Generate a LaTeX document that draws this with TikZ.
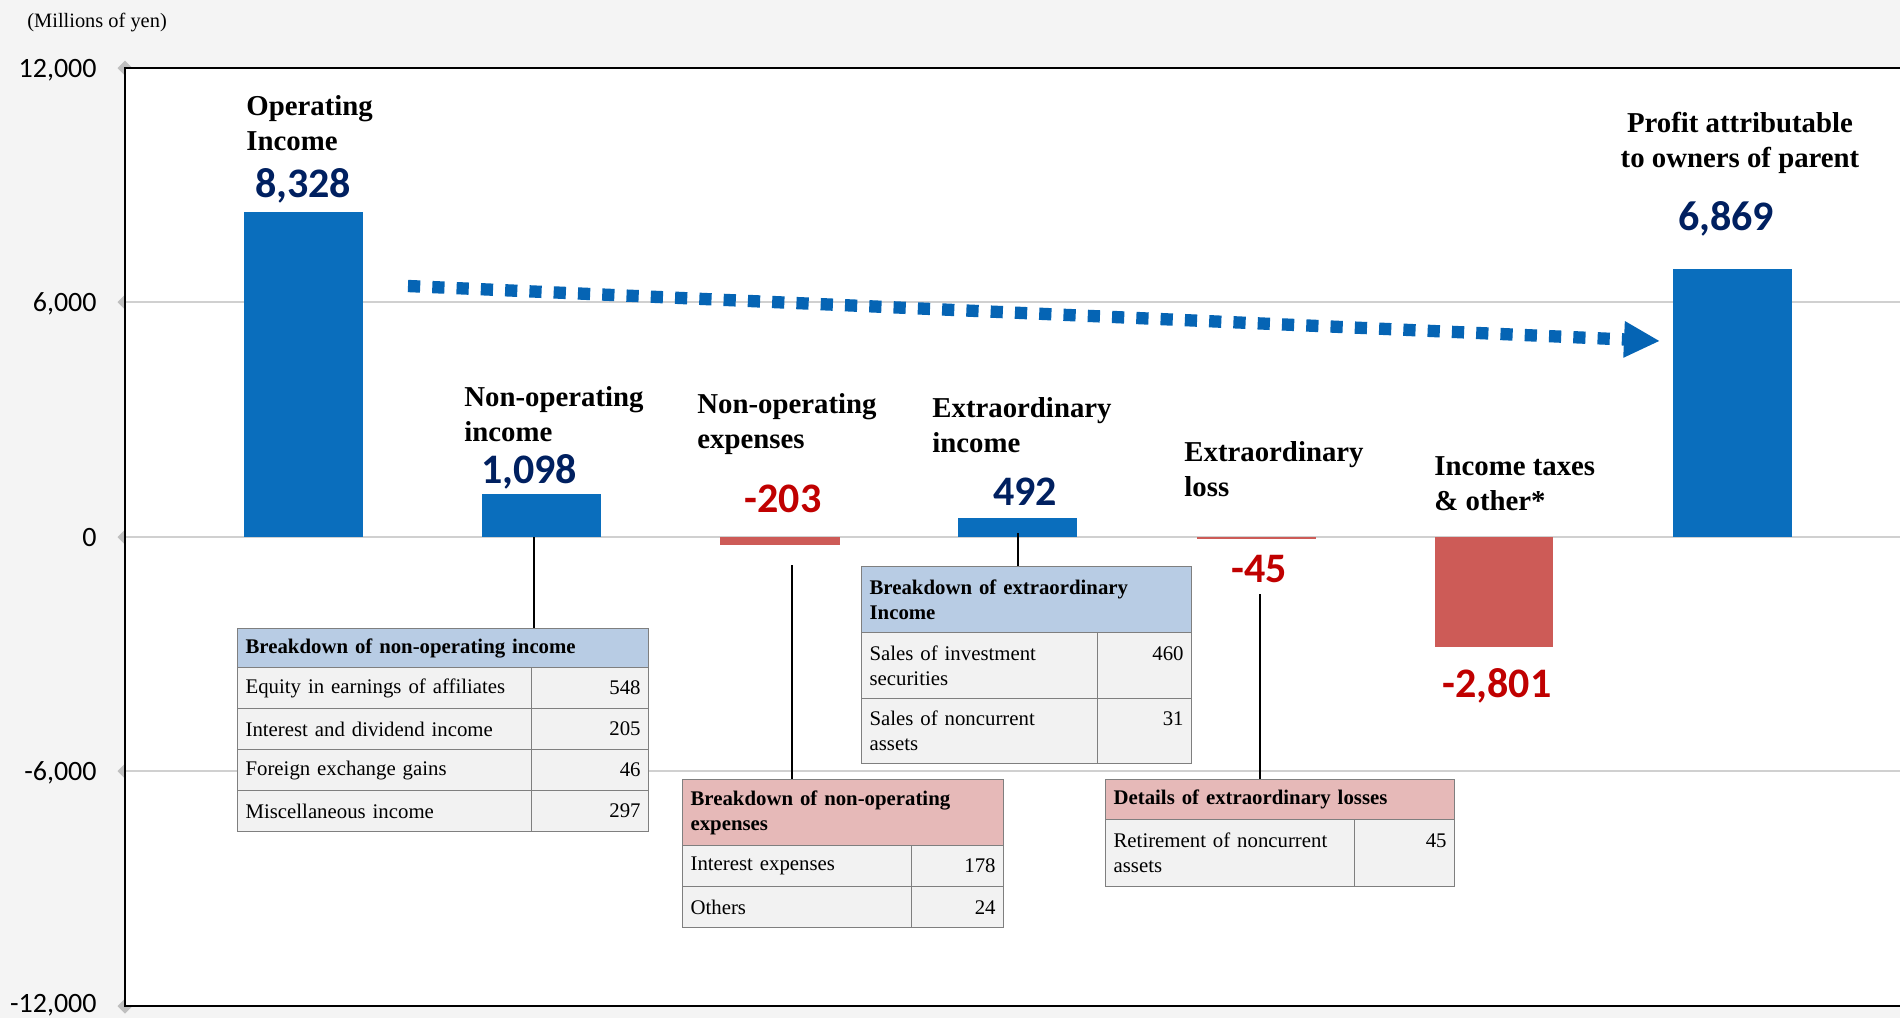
\documentclass[tikz,border=0pt]{standalone}
\usepackage{fontspec}
\setmainfont{Liberation Serif}
\newfontfamily\calfont{Carlito}
\usetikzlibrary{arrows.meta,fit}

\definecolor{bgc}{RGB}{244,244,244}
\definecolor{gridc}{RGB}{208,208,208}
\definecolor{diac}{RGB}{191,191,191}
\definecolor{barblue}{RGB}{10,110,189}
\definecolor{barred}{RGB}{205,91,87}
\definecolor{arrblue}{RGB}{5,100,180}
\definecolor{navyc}{RGB}{0,32,96}
\definecolor{redc}{RGB}{192,0,0}
\definecolor{hdrblue}{RGB}{184,204,228}
\definecolor{hdrred}{RGB}{230,185,184}
\definecolor{tabfill}{RGB}{242,242,242}
\definecolor{tabline}{RGB}{127,127,127}

\newcommand\tbfont{\fontsize{10.4pt}{12.5pt}\selectfont}

\begin{document}
\begin{tikzpicture}[x=0.5pt,y=-0.5pt,
  barb/.style={fill=barblue,draw=none,inner sep=0pt},
  barr/.style={fill=barred,draw=none,inner sep=0pt},
  grid/.style={draw=gridc,line width=1.4pt},
  frame/.style={draw=black,line width=1pt},
  diam/.style={fill=diac,draw=none},
  ticklab/.style={font=\calfont\fontsize{14pt}{16pt}\selectfont,anchor=base east,inner sep=0pt},
  catlab/.style={font=\bfseries\fontsize{14.4pt}{17.5pt}\selectfont,align=left,anchor=base west,inner sep=0pt},
  valblue/.style={font=\calfont\bfseries\fontsize{21pt}{25pt}\selectfont,text=navyc,anchor=base,inner sep=0pt},
  valred/.style={font=\calfont\bfseries\fontsize{21pt}{25pt}\selectfont,text=redc,anchor=base,inner sep=0pt},
  conn/.style={draw=black,line width=1.2pt},
  dotarrow/.style={draw=arrblue,line width=6.15pt,dash pattern=on 6.1pt off 6.05pt,
    -{Triangle[length=18pt,width=17pt]}},
  cell/.style={draw=tabline,fill=tabfill,line width=0.6pt,inner xsep=4pt,inner ysep=0pt,
    anchor=north west,font=\tbfont,align=left},
  cellnum/.style={cell,align=right},
  hdrb/.style={cell,fill=hdrblue,font=\tbfont\bfseries},
  hdrr/.style={cell,fill=hdrred,font=\tbfont\bfseries}
]
\useasboundingbox (0,0) rectangle (1900,1018);
% background
\fill[bgc] (0,0) rectangle (1900,1018);
% tick diamonds
\foreach \yy in {68,302,537,771,1006}{
  \fill[diam] (117.5,\yy) -- (125,\yy-7.5) -- (132.5,\yy) -- (125,\yy+7.5) -- cycle;
}
% plot area
\fill[white] (125,68) rectangle (1900,1006);
% gridlines
\draw[grid] (125,302) -- (1900,302);
\draw[grid] (125,537) -- (1900,537);
\draw[grid] (125,771) -- (1900,771);
% frame
\draw[frame] (1900,68) -- (125,68) -- (125,1006) -- (1900,1006);

% axis labels
\node[ticklab] (y1) at (97,77) {12,000};
\node[ticklab] (y2) at (97,311) {6,000};
\node[ticklab] (y3) at (97,546) {0};
\node[ticklab] (y4) at (97,780) {-6,000};
\node[ticklab] (y5) at (97,1012) {-12,000};
\node[anchor=base west,inner sep=0pt,font=\fontsize{10.2pt}{12pt}\selectfont] (unit) at (27,27) {(Millions of yen)};

% bars
\node[barb,fit={(244,211.5)(363,537)}] (b1) {};
\node[barb,fit={(482,494)(601,537)}] (b2) {};
\node[barr,fit={(720,537)(840,545)}] (b3) {};
\node[barb,fit={(958,517.8)(1077,537)}] (b4) {};
\node[barr,fit={(1197,537)(1316,538.8)}] (b5) {};
\node[barr,fit={(1435,537)(1553,646.5)}] (b6) {};
\node[barb,fit={(1673,268.6)(1792,537)}] (b7) {};

% dotted arrow
\coordinate (arrS) at (408,286);
\coordinate (arrE) at (1660,341);
\draw[dotarrow] (arrS) -- (arrE);

% table 1: non-operating income
\node[hdrb,text width=197.5pt,minimum height=19.5pt] (t1h) at (237,628) {Breakdown of non-operating income};
\node[cell,text width=139pt,minimum height=20.5pt] (t1a1) at (237,667) {Equity in earnings of affiliates};
\node[cellnum,text width=50.5pt,minimum height=20.5pt] (t1v1) at (531,667) {548};
\node[cell,text width=139pt,minimum height=20.5pt] (t1a2) at (237,708) {Interest and dividend income};
\node[cellnum,text width=50.5pt,minimum height=20.5pt] (t1v2) at (531,708) {205};
\node[cell,text width=139pt,minimum height=20.5pt] (t1a3) at (237,749) {Foreign exchange gains};
\node[cellnum,text width=50.5pt,minimum height=20.5pt] (t1v3) at (531,749) {46};
\node[cell,text width=139pt,minimum height=20.5pt] (t1a4) at (237,790) {Miscellaneous income};
\node[cellnum,text width=50.5pt,minimum height=20.5pt] (t1v4) at (531,790) {297};

% table 2: non-operating expenses
\node[hdrr,text width=152.5pt,minimum height=33pt] (t2h) at (682,779) {Breakdown of non-operating\\expenses};
\node[cell,text width=106.5pt,minimum height=20.5pt] (t2a1) at (682,845) {Interest expenses};
\node[cellnum,text width=38pt,minimum height=20.5pt] (t2v1) at (911,845) {178};
\node[cell,text width=106.5pt,minimum height=20.5pt] (t2a2) at (682,886) {Others};
\node[cellnum,text width=38pt,minimum height=20.5pt] (t2v2) at (911,886) {24};

% table 3: extraordinary income
\node[hdrb,text width=157pt,minimum height=33pt] (t3h) at (861,566) {Breakdown of extraordinary\\Income};
\node[cell,text width=110pt,minimum height=33pt] (t3a1) at (861,632) {Sales of investment\\securities};
\node[cellnum,text width=39pt,minimum height=33pt] (t3v1) at (1097,632) {460\\\mbox{}};
\node[cell,text width=110pt,minimum height=32.5pt] (t3a2) at (861,698) {Sales of noncurrent\\assets};
\node[cellnum,text width=39pt,minimum height=32.5pt] (t3v2) at (1097,698) {31\\\mbox{}};

% table 4: extraordinary losses
\node[hdrr,text width=166.5pt,minimum height=20pt] (t4h) at (1105,779) {Details of extraordinary losses};
\node[cell,text width=116.5pt,minimum height=33.5pt] (t4a1) at (1105,819) {Retirement of noncurrent\\assets};
\node[cellnum,text width=42pt,minimum height=33.5pt] (t4v1) at (1354,819) {45\\\mbox{}};

% connectors
\coordinate (k1) at (534,537);
\coordinate (k2) at (792,565);
\coordinate (k3) at (1018,533);
\coordinate (k4) at (1260,594);
\draw[conn] (k1) -- (k1 |- t1h.north);
\draw[conn] (k2) -- (k2 |- t2h.north);
\draw[conn] (k3) -- (k3 |- t3h.north);
\draw[conn] (k4) -- (k4 |- t4h.north);

% category labels (anchor = baseline of last line)
\node[catlab] (l1) at (246,150) {Operating\\Income};
\node[catlab] (l2) at (464,441) {Non-operating\\income};
\node[catlab] (l3) at (697,448) {Non-operating\\expenses};
\node[catlab] (l4) at (932,452) {Extraordinary\\income};
\node[catlab] (l5) at (1184,496) {Extraordinary\\loss};
\node[catlab] (l6) at (1434,510) {Income taxes\\\& other*};
\node[catlab,align=center,anchor=base] (l7) at (1740,167) {Profit attributable\\to owners of parent};

% values
\node[valblue] (v1) at (303,197) {8,328};
\node[valblue] (v2) at (529,483) {1,098};
\node[valred] (v3) at (783,512) {-203};
\node[valblue] (v4) at (1025,505) {492};
\node[valred] (v5) at (1259,582) {-45};
\node[valred] (v6) at (1497,697) {-2,801};
\node[valblue] (v7) at (1726,230) {6,869};
\end{tikzpicture}
\end{document}
